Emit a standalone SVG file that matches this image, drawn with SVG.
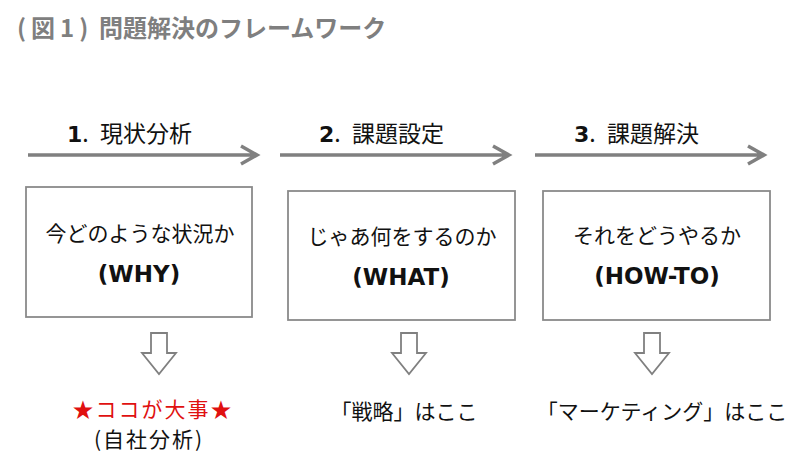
<svg xmlns="http://www.w3.org/2000/svg" width="800" height="460" viewBox="0 0 800 460">
<defs>
<style>
.jp{font-family:"Noto Sans CJK JP","Noto Sans",sans-serif;font-size:21px;fill:#111}
.hd{font-family:"Noto Sans CJK JP","Noto Sans",sans-serif;font-size:23px;fill:#111}
.num{font-family:"DejaVu Sans","Noto Sans CJK JP",sans-serif;font-weight:bold;font-size:22px}
.lat{font-family:"DejaVu Sans","Noto Sans CJK JP",sans-serif;font-weight:bold;font-size:23px;fill:#111}
.title{font-family:"Noto Sans CJK JP",sans-serif;font-weight:bold;font-size:24px;fill:#7f7f7f}
.box{fill:#fff;stroke:#8a8a8a;stroke-width:1.8}
.flow{stroke:#808080;stroke-width:3.5;fill:none}
.down{fill:#fff;stroke:#808080;stroke-width:1.8;stroke-linejoin:miter}
</style>
</defs>
<rect width="800" height="460" fill="#fff"/>
<text class="title" x="17" y="37"><tspan letter-spacing="5">(図1)</tspan><tspan x="99">問題解決のフレームワーク</tspan></text>

<g id="connectors">
<path class="flow" d="M28 155H257M241 146L257 155L241 164"/>
<path class="flow" d="M280 155H509M493 146L509 155L493 164"/>
<path class="flow" d="M535 155H764M748 146L764 155L748 164"/>
<path class="down" d="M151 333H167V353H176L159 374L142 353H151Z"/>
<path class="down" d="M401 333H417V353H426L409 374L392 353H401Z"/>
<path class="down" d="M644 333H660V353H669L652 374L635 353H644Z"/>
</g>

<g id="step1">
<text class="hd" x="67" y="142"><tspan class="num">1</tspan><tspan>.</tspan><tspan x="100">現状分析</tspan></text>
</g>
<g id="step2">
<text class="hd" x="319" y="142"><tspan class="num">2</tspan><tspan>.</tspan><tspan x="352">課題設定</tspan></text>
</g>
<g id="step3">
<text class="hd" x="574" y="142"><tspan class="num">3</tspan><tspan>.</tspan><tspan x="607">課題解決</tspan></text>
</g>

<g id="box1">
<rect class="box" x="26" y="187" width="226" height="130"/>
<text class="jp" x="140" y="241" text-anchor="middle">今どのような状況か</text>
<text class="lat" x="139" y="282" text-anchor="middle">(WHY)</text>
</g>
<g id="box2">
<rect class="box" x="288" y="191" width="227" height="129"/>
<text class="jp" x="402" y="244" text-anchor="middle">じゃあ何をするのか</text>
<text class="lat" x="401" y="285" text-anchor="middle">(WHAT)</text>
</g>
<g id="box3">
<rect class="box" x="543" y="191" width="227" height="129"/>
<text class="jp" x="657" y="243" text-anchor="middle">それをどうやるか</text>
<text class="lat" x="657" y="284" text-anchor="middle">(HOW-TO)</text>
</g>

<g id="note1">
<text class="jp" x="153" y="417" text-anchor="middle" style="fill:#e01010;letter-spacing:2px">★ココが大事★</text>
<text class="jp" x="149" y="447" text-anchor="middle" style="letter-spacing:2px">(自社分析)</text>
</g>
<g id="note2">
<text class="jp" x="404" y="419" text-anchor="middle">「戦略」はここ</text>
</g>
<g id="note3">
<text class="jp" x="662" y="419" text-anchor="middle">「マーケティング」はここ</text>
</g>
</svg>
